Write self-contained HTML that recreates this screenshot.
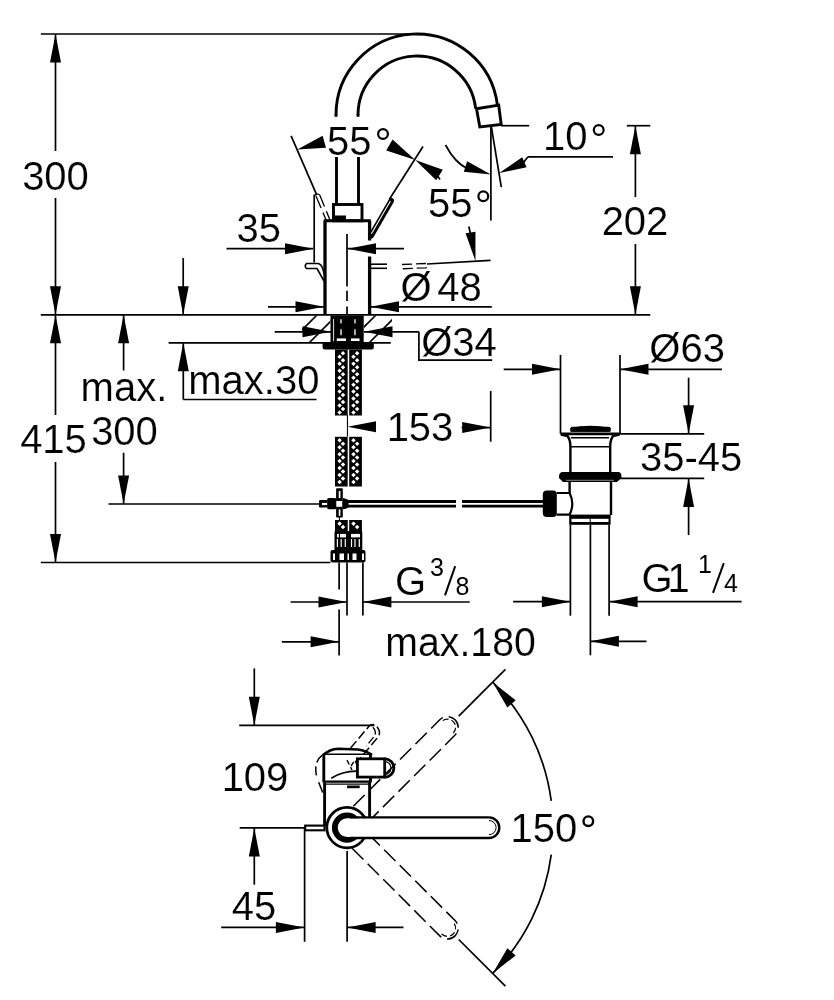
<!DOCTYPE html>
<html><head><meta charset="utf-8"><style>
html,body{margin:0;padding:0;background:#fff;}
svg{display:block;filter:grayscale(1);}
text{font-family:"Liberation Sans",sans-serif;fill:#000;stroke:#fff;stroke-width:0.15px;}
.g{will-change:transform;}
</style></head><body>
<svg width="834" height="1000" viewBox="0 0 834 1000" stroke="#000" stroke-linecap="butt">
<rect width="834" height="1000" fill="#fff" stroke="none"/>
<line x1="40.80" y1="34.00" x2="417.00" y2="34.00" stroke-width="1.7" />
<line x1="55.50" y1="34.00" x2="55.50" y2="151.00" stroke-width="1.7" />
<line x1="55.50" y1="198.00" x2="55.50" y2="314.80" stroke-width="1.7" />
<polygon points="55.50,34.00 61.00,62.50 50.00,62.50" fill="#000" stroke="none"/>
<polygon points="55.50,314.80 50.00,286.30 61.00,286.30" fill="#000" stroke="none"/>
<text x="55.50" y="189.50" font-size="40" text-anchor="middle" >300</text>
<line x1="40.80" y1="314.80" x2="650.30" y2="314.80" stroke-width="1.7" />
<line x1="55.50" y1="314.80" x2="55.50" y2="415.00" stroke-width="1.7" />
<line x1="55.50" y1="462.00" x2="55.50" y2="562.50" stroke-width="1.7" />
<polygon points="55.50,314.80 61.00,343.30 50.00,343.30" fill="#000" stroke="none"/>
<polygon points="55.50,562.50 50.00,534.00 61.00,534.00" fill="#000" stroke="none"/>
<text x="53.50" y="453.00" font-size="40" text-anchor="middle" >415</text>
<line x1="40.80" y1="562.50" x2="330.50" y2="562.50" stroke-width="1.7" />
<line x1="123.60" y1="314.80" x2="123.60" y2="370.50" stroke-width="1.7" />
<polygon points="123.60,314.80 129.10,343.30 118.10,343.30" fill="#000" stroke="none"/>
<text x="80.60" y="400.50" font-size="40" text-anchor="start" >max.</text>
<text x="124.50" y="445.00" font-size="40" text-anchor="middle" >300</text>
<line x1="123.60" y1="452.80" x2="123.60" y2="504.00" stroke-width="1.7" />
<polygon points="123.60,504.00 118.10,475.50 129.10,475.50" fill="#000" stroke="none"/>
<line x1="183.20" y1="258.00" x2="183.20" y2="314.80" stroke-width="1.7" />
<polygon points="183.20,314.80 177.70,286.30 188.70,286.30" fill="#000" stroke="none"/>
<line x1="168.60" y1="342.80" x2="390.80" y2="342.80" stroke-width="1.7" />
<line x1="183.30" y1="342.80" x2="183.30" y2="399.50" stroke-width="1.7" />
<polygon points="183.30,342.80 188.80,371.30 177.80,371.30" fill="#000" stroke="none"/>
<line x1="183.30" y1="399.50" x2="316.50" y2="399.50" stroke-width="1.7" />
<text x="188.30" y="394.00" font-size="40" text-anchor="start" >max.30</text>
<path d="M336.00,115.00 A81,81 0 0,1 497.40,105.13" stroke-width="2.9" fill="none" />
<path d="M358.00,115.00 A59,59 0 0,1 475.65,108.63" stroke-width="2.9" fill="none" />
<polygon points="476.50,108.80 498.70,105.10 501.20,124.50 479.80,127.00" stroke-width="2.9" fill="none" />
<line x1="336.50" y1="157.00" x2="336.50" y2="205.00" stroke-width="2.9" />
<line x1="358.50" y1="157.00" x2="358.50" y2="205.00" stroke-width="2.9" />
<line x1="336.00" y1="114.00" x2="336.00" y2="116.80" stroke-width="2.9" />
<line x1="358.00" y1="114.00" x2="358.00" y2="116.80" stroke-width="2.9" />
<rect x="333.50" y="204.50" width="28.50" height="16.30" rx="0" stroke-width="2.9" fill="none" />
<rect x="334.00" y="215.50" width="12.00" height="5.50" rx="0" stroke-width="0" fill="#000" stroke="none"/>
<line x1="325.00" y1="220.80" x2="325.00" y2="314.80" stroke-width="3.3" />
<line x1="323.80" y1="220.80" x2="370.80" y2="220.80" stroke-width="2.9" />
<line x1="369.60" y1="220.80" x2="369.60" y2="240.50" stroke-width="3.3" />
<line x1="369.60" y1="256.50" x2="369.60" y2="314.80" stroke-width="3.3" />
<line x1="347.00" y1="234.00" x2="347.00" y2="286.50" stroke-width="1.7" />
<line x1="347.00" y1="290.80" x2="347.00" y2="301.00" stroke-width="1.7" />
<line x1="347.00" y1="306.60" x2="347.00" y2="314.80" stroke-width="1.7" />
<path d="M316,196 L326.5,221" stroke-width="1.3" fill="none" stroke-dasharray="13,5"/>
<path d="M319.5,194.5 L330,220" stroke-width="1.3" fill="none" stroke-dasharray="13,5"/>
<path d="M314.5,196 Q316,193.5 319.5,194.5" stroke-width="1.3" fill="none" />
<line x1="291.10" y1="135.90" x2="316.50" y2="194.40" stroke-width="1.7" />
<line x1="314.20" y1="194.50" x2="314.20" y2="262.50" stroke-width="1.7" />
<path d="M318,263.5 L306.5,263.5 Q304,266 306.5,268.5 L317,268.5 L324,281" stroke-width="1.6" fill="none" />
<path d="M318,263.5 Q321,264 322.5,268 L325,276" stroke-width="1.6" fill="none" />
<line x1="371.20" y1="235.50" x2="391.20" y2="200.80" stroke-width="5.6" stroke-linecap="round"/>
<line x1="371.40" y1="233.80" x2="390.40" y2="201.00" stroke-width="1.1" stroke="#fff"/>
<line x1="369.60" y1="264.20" x2="387.00" y2="264.20" stroke-width="1.6" />
<line x1="369.60" y1="268.30" x2="387.00" y2="268.30" stroke-width="1.6" />
<path d="M402,264.5 L426,263.5 Q428,266 426,267.8 L402,268.8" stroke-width="1.3" fill="none" stroke-dasharray="10,4"/>
<line x1="427.00" y1="264.00" x2="490.50" y2="260.30" stroke-width="1.7" />
<polygon points="475.50,261.10 465.57,233.36 475.43,231.64" fill="#000" stroke="none"/>
<line x1="468.80" y1="226.50" x2="470.80" y2="235.00" stroke-width="1.7" />
<line x1="226.50" y1="248.70" x2="313.00" y2="248.70" stroke-width="1.7" />
<polygon points="313.50,248.70 285.00,254.20 285.00,243.20" fill="#000" stroke="none"/>
<line x1="347.50" y1="248.70" x2="404.00" y2="248.70" stroke-width="1.7" />
<polygon points="347.50,248.70 376.00,243.20 376.00,254.20" fill="#000" stroke="none"/>
<text x="258.80" y="241.50" font-size="40" text-anchor="middle" >35</text>
<line x1="268.00" y1="306.80" x2="324.00" y2="306.80" stroke-width="1.7" />
<polygon points="324.00,306.80 295.50,312.30 295.50,301.30" fill="#000" stroke="none"/>
<line x1="370.50" y1="306.80" x2="491.80" y2="306.80" stroke-width="1.7" />
<polygon points="370.50,306.80 399.00,301.30 399.00,312.30" fill="#000" stroke="none"/>
<text x="400.60" y="300.50" font-size="40" text-anchor="start" >Ø</text>
<text x="437.30" y="300.50" font-size="40" text-anchor="start" >48</text>
<polygon points="297.30,149.40 322.59,135.69 326.01,147.71" fill="#000" stroke="none"/>
<text x="327.00" y="155.00" font-size="40" text-anchor="start" >55</text>
<circle cx="383" cy="134" r="4.9" stroke-width="2.2" fill="none"/>
<line x1="423.00" y1="146.50" x2="389.40" y2="199.20" stroke-width="1.7" />
<polygon points="415.30,159.90 386.28,150.42 392.52,139.58" fill="#000" stroke="none"/>
<polygon points="415.30,159.90 442.81,169.70 436.19,180.30" fill="#000" stroke="none"/>
<line x1="437.00" y1="175.00" x2="440.00" y2="179.50" stroke-width="1.7" />
<line x1="501.00" y1="125.70" x2="529.20" y2="125.70" stroke-width="1.7" />
<text x="543.00" y="150.30" font-size="40" text-anchor="start" >10</text>
<circle cx="598.7" cy="130" r="4.9" stroke-width="2.2" fill="none"/>
<line x1="528.00" y1="156.80" x2="613.00" y2="156.80" stroke-width="1.7" />
<polygon points="499.20,173.10 522.23,157.24 526.57,167.36" fill="#000" stroke="none"/>
<line x1="523.50" y1="162.50" x2="528.00" y2="156.80" stroke-width="1.7" />
<line x1="490.90" y1="127.00" x2="490.90" y2="220.50" stroke-width="1.7" />
<line x1="491.40" y1="127.00" x2="501.30" y2="187.20" stroke-width="1.7" />
<path d="M445.5,145 Q455,163 468,169" stroke-width="1.7" fill="none" />
<polygon points="490.90,174.60 463.83,171.74 467.17,161.26" fill="#000" stroke="none"/>
<text x="428.00" y="217.30" font-size="40" text-anchor="start" >55</text>
<circle cx="483.3" cy="196.2" r="4.9" stroke-width="2.2" fill="none"/>
<line x1="626.80" y1="125.70" x2="650.30" y2="125.70" stroke-width="1.7" />
<line x1="635.40" y1="125.70" x2="635.40" y2="197.10" stroke-width="1.7" />
<polygon points="635.40,125.70 640.90,154.20 629.90,154.20" fill="#000" stroke="none"/>
<text x="635.00" y="235.00" font-size="40" text-anchor="middle" >202</text>
<line x1="635.40" y1="243.90" x2="635.40" y2="314.80" stroke-width="1.7" />
<polygon points="635.40,314.80 629.90,286.30 640.90,286.30" fill="#000" stroke="none"/>
<clipPath id="ctL"><rect x="302" y="315.5" width="28.5" height="26.5"/></clipPath>
<clipPath id="ctR"><rect x="364" y="315.5" width="28" height="26.5"/></clipPath>
<line x1="282.00" y1="350.00" x2="332.00" y2="300.00" stroke-width="1.6" clip-path="url(#ctL)"/>
<line x1="302.00" y1="350.00" x2="352.00" y2="300.00" stroke-width="1.6" clip-path="url(#ctL)"/>
<line x1="341.00" y1="350.00" x2="391.00" y2="300.00" stroke-width="1.6" clip-path="url(#ctR)"/>
<line x1="362.00" y1="350.00" x2="412.00" y2="300.00" stroke-width="1.6" clip-path="url(#ctR)"/>
<line x1="274.70" y1="331.80" x2="331.00" y2="331.80" stroke-width="1.7" />
<polygon points="331.00,331.80 302.50,337.30 302.50,326.30" fill="#000" stroke="none"/>
<line x1="364.00" y1="331.80" x2="418.90" y2="331.80" stroke-width="1.7" />
<polygon points="364.00,331.80 392.50,326.30 392.50,337.30" fill="#000" stroke="none"/>
<polyline points="418.90,331.80 418.90,360.10 492.20,360.10" stroke-width="1.7" fill="none" />
<text x="421.20" y="355.50" font-size="40" text-anchor="start" >Ø34</text>
<rect x="330.50" y="315.50" width="33.20" height="26.50" rx="0" stroke-width="0" fill="#000" stroke="none"/>
<line x1="333.60" y1="319.00" x2="333.60" y2="341.00" stroke-width="0.9" stroke="#fff"/>
<path d="M341,319.3 L341,323.5 M341,329.3 L341,335.2" stroke-width="1.3" fill="none" stroke="#fff"/>
<path d="M355,319.3 L355,323.5 M355,329.3 L355,335.2" stroke-width="1.3" fill="none" stroke="#fff"/>
<rect x="327.50" y="343.60" width="3.50" height="1.00" rx="0" stroke-width="0" fill="#fff" stroke="none"/>
<rect x="366.50" y="343.60" width="4.50" height="1.00" rx="0" stroke-width="0" fill="#fff" stroke="none"/>
<rect x="336.80" y="338.40" width="9.20" height="2.60" rx="0" stroke-width="0" fill="#fff" stroke="none"/>
<rect x="351.00" y="338.40" width="8.50" height="2.60" rx="0" stroke-width="0" fill="#fff" stroke="none"/>
<rect x="322.60" y="342.20" width="51.20" height="7.40" rx="2" stroke-width="0" fill="#000" stroke="none"/>
<rect x="335.00" y="349.50" width="12.70" height="66.00" rx="0" stroke-width="0" fill="#000" stroke="none"/>
<rect x="349.20" y="349.50" width="12.70" height="66.00" rx="0" stroke-width="0" fill="#000" stroke="none"/>
<path d="M343.00,351.10 L345.25,353.35 L343.00,355.60 L340.75,353.35Z M339.60,354.58 L341.85,356.83 L339.60,359.08 L337.35,356.83Z M343.00,358.05 L345.25,360.30 L343.00,362.55 L340.75,360.30Z M339.60,361.53 L341.85,363.78 L339.60,366.03 L337.35,363.78Z M343.00,365.00 L345.25,367.25 L343.00,369.50 L340.75,367.25Z M339.60,368.48 L341.85,370.73 L339.60,372.98 L337.35,370.73Z M343.00,371.95 L345.25,374.20 L343.00,376.45 L340.75,374.20Z M339.60,375.43 L341.85,377.68 L339.60,379.93 L337.35,377.68Z M343.00,378.90 L345.25,381.15 L343.00,383.40 L340.75,381.15Z M339.60,382.38 L341.85,384.63 L339.60,386.88 L337.35,384.63Z M343.00,385.85 L345.25,388.10 L343.00,390.35 L340.75,388.10Z M339.60,389.33 L341.85,391.58 L339.60,393.83 L337.35,391.58Z M343.00,392.80 L345.25,395.05 L343.00,397.30 L340.75,395.05Z M339.60,396.28 L341.85,398.53 L339.60,400.78 L337.35,398.53Z M343.00,399.75 L345.25,402.00 L343.00,404.25 L340.75,402.00Z M339.60,403.23 L341.85,405.48 L339.60,407.73 L337.35,405.48Z M343.00,406.70 L345.25,408.95 L343.00,411.20 L340.75,408.95Z M339.60,410.18 L341.85,412.43 L339.60,414.68 L337.35,412.43Z" fill="#fff" stroke="none"/>
<path d="M357.10,351.10 L359.35,353.35 L357.10,355.60 L354.85,353.35Z M353.50,354.58 L355.75,356.83 L353.50,359.08 L351.25,356.83Z M357.10,358.05 L359.35,360.30 L357.10,362.55 L354.85,360.30Z M353.50,361.53 L355.75,363.78 L353.50,366.03 L351.25,363.78Z M357.10,365.00 L359.35,367.25 L357.10,369.50 L354.85,367.25Z M353.50,368.48 L355.75,370.73 L353.50,372.98 L351.25,370.73Z M357.10,371.95 L359.35,374.20 L357.10,376.45 L354.85,374.20Z M353.50,375.43 L355.75,377.68 L353.50,379.93 L351.25,377.68Z M357.10,378.90 L359.35,381.15 L357.10,383.40 L354.85,381.15Z M353.50,382.38 L355.75,384.63 L353.50,386.88 L351.25,384.63Z M357.10,385.85 L359.35,388.10 L357.10,390.35 L354.85,388.10Z M353.50,389.33 L355.75,391.58 L353.50,393.83 L351.25,391.58Z M357.10,392.80 L359.35,395.05 L357.10,397.30 L354.85,395.05Z M353.50,396.28 L355.75,398.53 L353.50,400.78 L351.25,398.53Z M357.10,399.75 L359.35,402.00 L357.10,404.25 L354.85,402.00Z M353.50,403.23 L355.75,405.48 L353.50,407.73 L351.25,405.48Z M357.10,406.70 L359.35,408.95 L357.10,411.20 L354.85,408.95Z M353.50,410.18 L355.75,412.43 L353.50,414.68 L351.25,412.43Z" fill="#fff" stroke="none"/>
<rect x="335.00" y="436.80" width="12.70" height="49.70" rx="0" stroke-width="0" fill="#000" stroke="none"/>
<rect x="349.20" y="436.80" width="12.70" height="49.70" rx="0" stroke-width="0" fill="#000" stroke="none"/>
<path d="M339.60,437.98 L341.85,440.23 L339.60,442.48 L337.35,440.23Z M343.00,441.45 L345.25,443.70 L343.00,445.95 L340.75,443.70Z M339.60,444.93 L341.85,447.18 L339.60,449.43 L337.35,447.18Z M343.00,448.40 L345.25,450.65 L343.00,452.90 L340.75,450.65Z M339.60,451.88 L341.85,454.13 L339.60,456.38 L337.35,454.13Z M343.00,455.35 L345.25,457.60 L343.00,459.85 L340.75,457.60Z M339.60,458.83 L341.85,461.08 L339.60,463.33 L337.35,461.08Z M343.00,462.30 L345.25,464.55 L343.00,466.80 L340.75,464.55Z M339.60,465.78 L341.85,468.03 L339.60,470.28 L337.35,468.03Z M343.00,469.25 L345.25,471.50 L343.00,473.75 L340.75,471.50Z M339.60,472.73 L341.85,474.98 L339.60,477.23 L337.35,474.98Z M343.00,476.20 L345.25,478.45 L343.00,480.70 L340.75,478.45Z M339.60,479.68 L341.85,481.93 L339.60,484.18 L337.35,481.93Z" fill="#fff" stroke="none"/>
<path d="M353.50,437.98 L355.75,440.23 L353.50,442.48 L351.25,440.23Z M357.10,441.45 L359.35,443.70 L357.10,445.95 L354.85,443.70Z M353.50,444.93 L355.75,447.18 L353.50,449.43 L351.25,447.18Z M357.10,448.40 L359.35,450.65 L357.10,452.90 L354.85,450.65Z M353.50,451.88 L355.75,454.13 L353.50,456.38 L351.25,454.13Z M357.10,455.35 L359.35,457.60 L357.10,459.85 L354.85,457.60Z M353.50,458.83 L355.75,461.08 L353.50,463.33 L351.25,461.08Z M357.10,462.30 L359.35,464.55 L357.10,466.80 L354.85,464.55Z M353.50,465.78 L355.75,468.03 L353.50,470.28 L351.25,468.03Z M357.10,469.25 L359.35,471.50 L357.10,473.75 L354.85,471.50Z M353.50,472.73 L355.75,474.98 L353.50,477.23 L351.25,474.98Z M357.10,476.20 L359.35,478.45 L357.10,480.70 L354.85,478.45Z M353.50,479.68 L355.75,481.93 L353.50,484.18 L351.25,481.93Z" fill="#fff" stroke="none"/>
<rect x="335.00" y="520.00" width="12.70" height="11.50" rx="0" stroke-width="0" fill="#000" stroke="none"/>
<rect x="349.20" y="520.00" width="12.70" height="11.50" rx="0" stroke-width="0" fill="#000" stroke="none"/>
<path d="M339.60,521.38 L341.85,523.62 L339.60,525.88 L337.35,523.62Z M343.00,524.85 L345.25,527.10 L343.00,529.35 L340.75,527.10Z" fill="#fff" stroke="none"/>
<path d="M353.50,521.38 L355.75,523.62 L353.50,525.88 L351.25,523.62Z M357.10,524.85 L359.35,527.10 L357.10,529.35 L354.85,527.10Z" fill="#fff" stroke="none"/>
<line x1="347.50" y1="349.00" x2="347.50" y2="349.50" stroke-width="1.0" />
<line x1="347.50" y1="415.00" x2="347.50" y2="436.50" stroke-width="1.2" />
<line x1="348.45" y1="350.00" x2="348.45" y2="486.00" stroke-width="0.9" stroke="#fff" stroke-dasharray="22,3"/>
<polygon points="347.50,426.80 376.00,421.30 376.00,432.30" fill="#000" stroke="none"/>
<text x="420.00" y="441.00" font-size="40" text-anchor="middle" >153</text>
<line x1="461.60" y1="427.60" x2="490.70" y2="427.60" stroke-width="1.7" />
<polygon points="490.70,427.60 462.20,433.10 462.20,422.10" fill="#000" stroke="none"/>
<line x1="490.70" y1="391.00" x2="490.70" y2="441.70" stroke-width="1.7" />
<line x1="108.50" y1="504.00" x2="320.00" y2="504.00" stroke-width="1.7" />
<rect x="319.00" y="500.10" width="8.50" height="7.40" rx="1.2" stroke-width="0" fill="#000" stroke="none"/>
<rect x="321.90" y="502.90" width="5.60" height="2.20" rx="0" stroke-width="0" fill="#fff" stroke="none"/>
<rect x="327.20" y="497.90" width="9.10" height="11.30" rx="1.5" stroke-width="0" fill="#000" stroke="none"/>
<rect x="336.10" y="488.30" width="6.70" height="29.30" rx="0.8" stroke-width="0" fill="#000" stroke="none"/>
<rect x="338.70" y="491.00" width="1.70" height="7.10" rx="0" stroke-width="0" fill="#fff" stroke="none"/>
<rect x="338.70" y="509.40" width="1.70" height="6.50" rx="0" stroke-width="0" fill="#fff" stroke="none"/>
<rect x="336.30" y="501.00" width="5.80" height="5.80" rx="0" stroke-width="0" fill="#fff" stroke="none"/>
<path d="M342.8,497.9 Q346,498.5 348.5,500.1 L348.5,507.5 Q346,509 342.8,509.2Z" fill="#000" stroke="none"/>
<path d="M348,501.5 L456,501.5 M348,506.1 L456,506.1 M462,501.5 L543,501.5 M462,506.1 L543,506.1" stroke-width="2.8" fill="none" />
<line x1="339.40" y1="517.00" x2="339.40" y2="520.50" stroke-width="1.0" />
<rect x="334.50" y="531.00" width="27.80" height="19.50" rx="1" stroke-width="0" fill="#000" stroke="none"/>
<rect x="336.80" y="539.00" width="1.20" height="8.00" rx="0" stroke-width="0" fill="#fff" stroke="none"/>
<rect x="340.60" y="539.00" width="1.20" height="8.00" rx="0" stroke-width="0" fill="#fff" stroke="none"/>
<rect x="344.70" y="539.00" width="1.20" height="8.00" rx="0" stroke-width="0" fill="#fff" stroke="none"/>
<rect x="350.90" y="539.00" width="1.20" height="8.00" rx="0" stroke-width="0" fill="#fff" stroke="none"/>
<rect x="354.40" y="539.00" width="1.20" height="8.00" rx="0" stroke-width="0" fill="#fff" stroke="none"/>
<rect x="358.70" y="539.00" width="1.20" height="8.00" rx="0" stroke-width="0" fill="#fff" stroke="none"/>
<rect x="337.00" y="533.90" width="1.80" height="3.50" rx="0" stroke-width="0" fill="#fff" stroke="none"/>
<rect x="340.00" y="533.90" width="6.00" height="3.50" rx="0" stroke-width="0" fill="#fff" stroke="none"/>
<rect x="351.00" y="533.90" width="9.00" height="3.50" rx="0" stroke-width="0" fill="#fff" stroke="none"/>
<rect x="330.50" y="550.00" width="35.00" height="12.50" rx="2" stroke-width="0" fill="#000" stroke="none"/>
<rect x="333.00" y="553.50" width="2.00" height="6.50" rx="0" stroke-width="0" fill="#fff" stroke="none"/>
<rect x="339.50" y="553.50" width="4.50" height="6.50" rx="0" stroke-width="0" fill="#fff" stroke="none"/>
<rect x="347.50" y="553.50" width="1.50" height="6.50" rx="0" stroke-width="0" fill="#fff" stroke="none"/>
<rect x="352.50" y="553.50" width="4.00" height="6.50" rx="0" stroke-width="0" fill="#fff" stroke="none"/>
<rect x="362.00" y="553.50" width="2.00" height="6.50" rx="0" stroke-width="0" fill="#fff" stroke="none"/>
<line x1="339.10" y1="562.50" x2="339.10" y2="589.60" stroke-width="1.7" />
<line x1="339.10" y1="609.40" x2="339.10" y2="655.50" stroke-width="1.7" />
<line x1="347.00" y1="562.50" x2="347.00" y2="615.40" stroke-width="1.7" />
<line x1="362.90" y1="562.50" x2="362.90" y2="615.40" stroke-width="1.7" />
<line x1="290.60" y1="602.00" x2="347.00" y2="602.00" stroke-width="1.7" />
<polygon points="347.00,602.00 318.50,607.50 318.50,596.50" fill="#000" stroke="none"/>
<line x1="362.90" y1="602.00" x2="469.70" y2="602.00" stroke-width="1.7" />
<polygon points="362.90,602.00 391.40,596.50 391.40,607.50" fill="#000" stroke="none"/>
<text x="395.00" y="594.80" font-size="40" text-anchor="start" >G</text>
<text x="430.00" y="576.00" font-size="25" text-anchor="start" style="stroke-width:0">3</text>
<line x1="445.00" y1="595.30" x2="455.20" y2="566.20" stroke-width="2.0" />
<text x="455.50" y="595.20" font-size="25" text-anchor="start" style="stroke-width:0">8</text>
<line x1="281.90" y1="641.80" x2="339.10" y2="641.80" stroke-width="1.7" />
<polygon points="339.10,641.80 310.60,647.30 310.60,636.30" fill="#000" stroke="none"/>
<text x="385.30" y="656.30" font-size="40" text-anchor="start" textLength="150.5" lengthAdjust="spacingAndGlyphs">max.180</text>
<line x1="590.40" y1="641.30" x2="646.50" y2="641.30" stroke-width="1.7" />
<polygon points="590.40,641.30 618.90,635.80 618.90,646.80" fill="#000" stroke="none"/>
<line x1="560.50" y1="354.90" x2="560.50" y2="433.80" stroke-width="1.7" />
<line x1="620.00" y1="354.90" x2="620.00" y2="433.80" stroke-width="1.7" />
<line x1="503.70" y1="369.30" x2="560.50" y2="369.30" stroke-width="1.7" />
<polygon points="560.50,369.30 532.00,374.80 532.00,363.80" fill="#000" stroke="none"/>
<line x1="620.00" y1="369.30" x2="722.00" y2="369.30" stroke-width="1.7" />
<polygon points="620.00,369.30 648.50,363.80 648.50,374.80" fill="#000" stroke="none"/>
<text x="649.30" y="362.00" font-size="40" text-anchor="start" >Ø63</text>
<line x1="620.00" y1="433.80" x2="704.20" y2="433.80" stroke-width="1.7" />
<line x1="688.60" y1="377.70" x2="688.60" y2="433.80" stroke-width="1.7" />
<polygon points="688.60,433.80 683.10,405.30 694.10,405.30" fill="#000" stroke="none"/>
<line x1="620.00" y1="478.40" x2="704.20" y2="478.40" stroke-width="1.7" />
<line x1="688.60" y1="478.40" x2="688.60" y2="535.10" stroke-width="1.7" />
<polygon points="688.60,478.40 694.10,506.90 683.10,506.90" fill="#000" stroke="none"/>
<text x="640.00" y="471.00" font-size="40" text-anchor="start" >35-45</text>
<path d="M570.4,431.8 L570.4,428 Q590,423.5 610.6,428 L610.6,431.8Z" fill="#000" stroke="none"/>
<rect x="570.40" y="426.80" width="40.20" height="5.00" rx="2" stroke-width="0" fill="#000" stroke="none"/>
<line x1="560.50" y1="433.80" x2="620.00" y2="433.80" stroke-width="2.8" />
<path d="M561,434.5 L567.5,436 Q570.4,440 570.4,446.5 L570.4,472" stroke-width="2.4" fill="none" />
<path d="M619.5,434.5 L613,436 Q610.2,440 610.2,446.5 L610.2,472" stroke-width="2.4" fill="none" />
<line x1="571.00" y1="437.80" x2="609.00" y2="437.80" stroke-width="1.6" />
<line x1="571.00" y1="446.80" x2="609.00" y2="446.80" stroke-width="1.6" />
<path d="M562,472 L619,472 Q622,473 621.4,478 L617,482 L563,482 L559,478 Q558.5,473 562,472Z" fill="#000" stroke="none"/>
<line x1="566.00" y1="480.30" x2="614.00" y2="480.30" stroke-width="0.8" stroke="#aaa"/>
<line x1="569.60" y1="482.00" x2="569.60" y2="493.00" stroke-width="2.4" />
<line x1="611.00" y1="482.00" x2="611.00" y2="515.00" stroke-width="2.4" />
<path d="M556.6,493 L569.6,493 Q575,503.8 569.6,514.6 L556.6,514.6" stroke-width="2.2" fill="none" />
<rect x="542.80" y="490.60" width="14.00" height="26.40" rx="4" stroke-width="0" fill="#000" stroke="none"/>
<rect x="569.20" y="514.60" width="41.40" height="10.20" rx="0" stroke-width="0" fill="#000" stroke="none"/>
<rect x="571.50" y="518.80" width="37.00" height="3.20" rx="0" stroke-width="0" fill="#fff" stroke="none"/>
<line x1="590.20" y1="518.80" x2="590.20" y2="522.00" stroke-width="1" />
<line x1="570.40" y1="524.80" x2="570.40" y2="615.70" stroke-width="1.7" />
<line x1="590.40" y1="524.80" x2="590.40" y2="655.30" stroke-width="1.7" />
<line x1="609.10" y1="524.80" x2="609.10" y2="615.70" stroke-width="1.7" />
<line x1="513.10" y1="601.70" x2="570.40" y2="601.70" stroke-width="1.7" />
<polygon points="570.40,601.70 541.90,607.20 541.90,596.20" fill="#000" stroke="none"/>
<line x1="609.10" y1="601.70" x2="741.60" y2="601.70" stroke-width="1.7" />
<polygon points="609.10,601.70 637.60,596.20 637.60,607.20" fill="#000" stroke="none"/>
<text x="641.50" y="592.30" font-size="40" text-anchor="start" >G</text>
<text x="667.50" y="592.30" font-size="40" text-anchor="start" >1</text>
<text x="698.00" y="572.70" font-size="25" text-anchor="start" style="stroke-width:0">1</text>
<line x1="713.00" y1="592.80" x2="723.80" y2="563.20" stroke-width="2.0" />
<text x="724.00" y="591.80" font-size="25" text-anchor="start" style="stroke-width:0">4</text>
<line x1="254.30" y1="668.40" x2="254.30" y2="725.20" stroke-width="1.7" />
<polygon points="254.30,725.20 248.80,696.70 259.80,696.70" fill="#000" stroke="none"/>
<line x1="239.20" y1="725.40" x2="374.40" y2="725.40" stroke-width="1.7" />
<text x="255.00" y="790.50" font-size="40" text-anchor="middle" >109</text>
<line x1="239.70" y1="827.90" x2="305.10" y2="827.90" stroke-width="1.7" />
<line x1="254.30" y1="827.90" x2="254.30" y2="884.70" stroke-width="1.7" />
<polygon points="254.30,827.90 259.80,856.40 248.80,856.40" fill="#000" stroke="none"/>
<text x="254.00" y="920.00" font-size="40" text-anchor="middle" >45</text>
<line x1="221.20" y1="927.40" x2="304.40" y2="927.40" stroke-width="1.7" />
<polygon points="304.40,927.40 275.90,932.90 275.90,921.90" fill="#000" stroke="none"/>
<line x1="347.10" y1="927.40" x2="403.50" y2="927.40" stroke-width="1.7" />
<polygon points="347.10,927.40 375.60,921.90 375.60,932.90" fill="#000" stroke="none"/>
<line x1="304.60" y1="828.00" x2="304.60" y2="941.80" stroke-width="1.7" />
<line x1="347.10" y1="851.00" x2="347.10" y2="941.80" stroke-width="1.7" />
<rect x="305.20" y="825.60" width="19.30" height="4.70" rx="0" stroke-width="2.1" fill="none" />
<path d="M367.36,822.71 L455.05,735.03 A10.8,10.8 0 0,0 439.77,719.75 L352.09,807.44" stroke-width="1.5" fill="none" stroke-dasharray="16,6"/>
<path d="M453.21,733.19 A8.200000000000001,8.200000000000001 0 0,0 441.61,721.59" stroke-width="1.2" fill="none" stroke-dasharray="6,3"/>
<path d="M352.09,848.16 L439.77,935.85 A10.8,10.8 0 0,0 455.05,920.57 L367.36,832.89" stroke-width="1.5" fill="none" stroke-dasharray="16,6"/>
<path d="M441.61,934.01 A8.200000000000001,8.200000000000001 0 0,0 453.21,922.41" stroke-width="1.2" fill="none" stroke-dasharray="6,3"/>
<path d="M492.66,682.14 A206,206 0 0,1 551.24,800.91 M551.24,854.69 A206,206 0 0,1 492.66,973.46" stroke-width="1.7" fill="none" />
<polygon points="492.66,682.14 515.67,700.22 507.37,707.43" fill="#000" stroke="none"/>
<polygon points="492.66,973.46 507.37,948.17 515.67,955.38" fill="#000" stroke="none"/>
<line x1="458.72" y1="716.08" x2="505.39" y2="669.41" stroke-width="1.7" />
<line x1="458.72" y1="939.52" x2="505.39" y2="986.19" stroke-width="1.7" />
<text x="510.50" y="841.50" font-size="40" text-anchor="start" >150</text>
<circle cx="588.3" cy="821.2" r="4.8" stroke-width="2.4" fill="none"/>
<circle cx="347" cy="827.6" r="20.2" stroke-width="2.7" fill="#fff"/>
<circle cx="347" cy="827.6" r="15.1" fill="#000" stroke="none"/>
<path d="M347,818.3 L489,818.3 A9.3,9.3 0 0,1 489,836.9 L347,836.9 A9.3,9.3 0 0,1 347,818.3Z" fill="#fff" stroke="none"/>
<path d="M350,817.4 L489,817.4 A10.3,10.3 0 0,1 489,838 L350,838" stroke-width="2.4" fill="none" />
<path d="M489,820.5 A7.1,7.1 0 0,1 489,834.7" stroke-width="1.0" fill="none" />
<line x1="324.60" y1="782.50" x2="324.60" y2="826.00" stroke-width="2.9" />
<line x1="369.60" y1="782.50" x2="369.60" y2="817.50" stroke-width="2.9" />
<line x1="323.50" y1="781.60" x2="371.00" y2="781.60" stroke-width="2.4" />
<line x1="325.00" y1="784.20" x2="369.00" y2="784.20" stroke-width="1.2" />
<rect x="347.10" y="785.50" width="12.60" height="2.70" rx="0" stroke-width="0" fill="#000" stroke="none"/>
<line x1="323.80" y1="754.30" x2="323.80" y2="782.50" stroke-width="2.9" />
<line x1="370.50" y1="753.00" x2="370.50" y2="759.00" stroke-width="2.9" />
<line x1="370.50" y1="776.00" x2="370.50" y2="782.50" stroke-width="2.9" />
<path d="M322.6,755.5 Q330,749 338,748.8 L358,749.5 Q366,750.5 372,755" stroke-width="2.6" fill="none" />
<line x1="323.80" y1="754.20" x2="371.60" y2="754.20" stroke-width="1.6" />
<path d="M331.2,778.2 Q342,771.5 356.3,771.2" stroke-width="1.8" fill="none" />
<rect x="357.40" y="758.80" width="27.30" height="18.30" rx="0" stroke-width="2.8" fill="none" />
<path d="M384.7,758.8 A9.2,9.15 0 0,1 384.7,777.1" stroke-width="2.8" fill="none" />
<path d="M384.7,761.5 A6.2,6.4 0 0,1 384.7,774.4" stroke-width="1.2" fill="none" />
<path d="M316.4,775.4 Q313.5,760 323.8,754.3" stroke-width="1.5" fill="none" stroke-dasharray="9,4"/>
<path d="M318.7,782.2 L322.7,792.4" stroke-width="1.5" fill="none" />
<path d="M350.6,748 L369,726.2 Q373.5,722.5 377.5,727.5 Q381,732 378.5,736.5 L360.5,758" stroke-width="1.5" fill="none" stroke-dasharray="9,3.5"/>
<path d="M372.8,727.2 Q376.5,731 374.8,735.5 L366.5,746" stroke-width="1.3" fill="none" stroke-dasharray="8,3"/>
<path d="M351,766 L355,760 L358,768 M347,760 L352,770" stroke-width="1.4" fill="none" stroke-dasharray="5,3"/>
</svg></body></html>
